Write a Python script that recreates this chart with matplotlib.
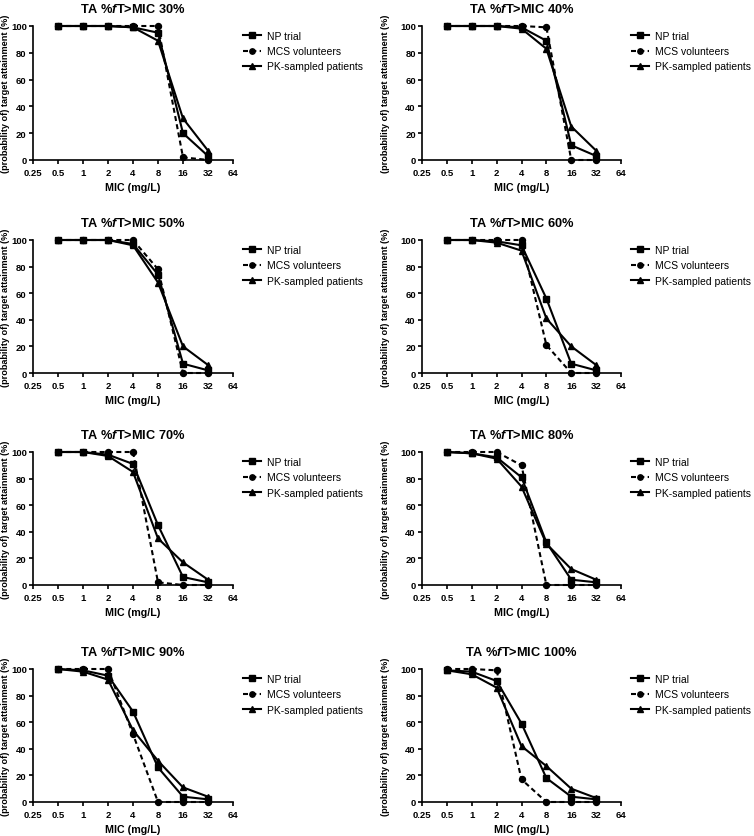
import numpy as np
import matplotlib
matplotlib.use("Agg")
from matplotlib import pyplot as plt

plt.rcParams['font.family'] = ['Liberation Sans', 'DejaVu Sans']
plt.rcParams['mathtext.fontset'] = 'custom'
plt.rcParams['mathtext.it'] = 'Liberation Sans:italic:bold'

mic = [0.5, 1, 2, 4, 8, 16, 32]
targets = [30, 40, 50, 60, 70, 80, 90, 100]

np_trial = [
    [100, 100, 100, 99, 95, 20, 3],
    [100, 100, 100, 99, 89, 11, 3],
    [100, 100, 100, 97, 74, 7, 2],
    [100, 100, 99, 96, 56, 7, 2],
    [100, 100, 98, 91, 45, 6, 2],
    [100, 99, 96, 81, 32, 4, 2],
    [100, 99, 95, 68, 26, 4, 2],
    [99, 98, 91, 59, 18, 4, 2],
]
mcs_vol = [
    [100, 100, 100, 100, 100, 2, 0],
    [100, 100, 100, 100, 99, 0, 0],
    [100, 100, 100, 100, 78, 0, 0],
    [100, 100, 100, 100, 21, 0, 0],
    [100, 100, 100, 100, 2, 0, 0],
    [100, 100, 100, 90, 0, 0, 0],
    [100, 100, 100, 51, 0, 0, 0],
    [100, 100, 99, 17, 0, 0, 0],
]
pk_pat = [
    [100, 100, 100, 99, 89, 31, 7],
    [100, 100, 100, 98, 83, 25, 7],
    [100, 100, 100, 96, 68, 20, 6],
    [100, 100, 98, 92, 41, 20, 6],
    [100, 100, 97, 85, 35, 17, 4],
    [100, 99, 95, 74, 31, 12, 4],
    [100, 98, 92, 54, 31, 11, 4],
    [99, 96, 86, 42, 27, 10, 3],
]
xticks = [0.25, 0.5, 1, 2, 4, 8, 16, 32, 64]
xticklabels = ['0.25', '0.5', '1', '2', '4', '8', '16', '32', '64']

W, H = 754, 837
fig = plt.figure(figsize=(W/100, H/100), dpi=100)

cols = [(33, 233), (422, 621)]
ylab_x = [-23/200, -32/199]
rows = [(27, 161), (241, 374), (453, 586), (670, 803)]

for i, t in enumerate(targets):
    x0, x1 = cols[i % 2]
    y0, y1 = rows[i // 2]
    ax = fig.add_axes([x0/W, 1 - y1/H, (x1-x0)/W, (y1-y0)/H])
    ax.plot(mic, np_trial[i], '-', color='black', lw=1.5, marker='s', ms=4.6,
            label='NP trial', clip_on=False, zorder=3)
    ax.plot(mic, mcs_vol[i], '--', color='black', lw=1.5, marker='o', ms=4.3,
            label='MCS volunteers', clip_on=False, zorder=3, dashes=(2.4, 1.6))
    ax.plot(mic, pk_pat[i], '-', color='black', lw=1.5, marker='^', ms=4.6,
            label='PK-sampled patients', clip_on=False, zorder=3)
    ax.set_xscale('log', base=2)
    ax.set_xlim(0.25, 64)
    ax.set_ylim(0, 100)
    ax.set_xticks(xticks)
    ax.set_xticklabels(xticklabels)
    ax.minorticks_off()
    ax.set_yticks([0, 20, 40, 60, 80, 100])
    for s in ['top', 'right']:
        ax.spines[s].set_visible(False)
    for s in ['left', 'bottom']:
        ax.spines[s].set_linewidth(1.2)
    ax.tick_params(direction='out', length=3, width=1.2, labelsize=6.8)
    ax.tick_params(axis='x', pad=2.5)
    ax.tick_params(axis='y', pad=1.5)
    for lab in ax.get_xticklabels() + ax.get_yticklabels():
        lab.set_fontweight('bold')
    ax.set_xlabel('MIC (mg/L)', fontsize=7.7, fontweight='bold', labelpad=4)
    ax.set_ylabel('(probability of) target attainment (%)', fontsize=6.6,
                  fontweight='bold')
    ax.yaxis.set_label_coords(ylab_x[i % 2], 0.5)
    ax.set_title(r'TA %$\mathit{f}$T>MIC ' + f'{t}%', fontsize=9.2,
                 fontweight='bold', pad=10)
    ax.legend(loc='upper left', bbox_to_anchor=(1.0, 1.04), frameon=False,
              fontsize=7.5, handlelength=1.7, handletextpad=0.6,
              labelspacing=0.5, borderaxespad=0.6, markerscale=0.9)

fig.savefig('out.png', dpi=100)
